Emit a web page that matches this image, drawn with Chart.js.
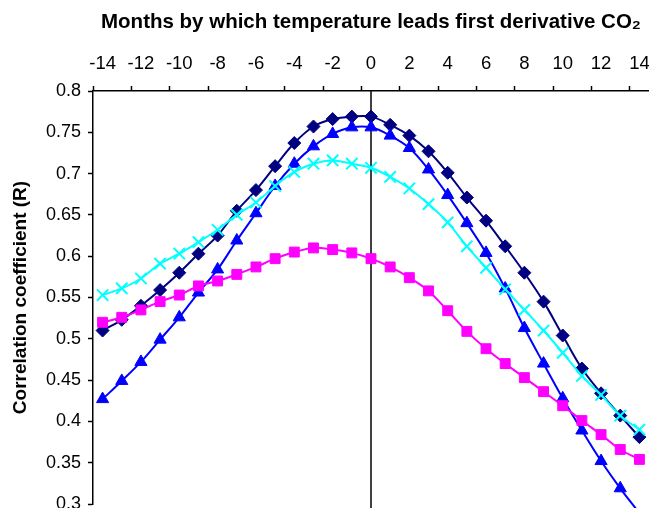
<!DOCTYPE html>
<html>
<head>
<meta charset="utf-8">
<script src="https://cdn.jsdelivr.net/npm/chart.js@4/dist/chart.umd.min.js"></script>
<style>
  html, body { margin: 0; padding: 0; background: #fff; overflow: hidden; }
  #wrap { width: 649px; height: 508px; }
</style>
</head>
<body>
<div id="wrap"><canvas id="grafica"></canvas></div>
<script>
// Meses (categorias del eje X)
const meses = [-14, -13, -12, -11, -10, -9, -8, -7, -6, -5, -4, -3, -2, -1, 0,
               1, 2, 3, 4, 5, 6, 7, 8, 9, 10, 11, 12, 13, 14];

// Series
const serieAzulOscuro = [0.510, 0.523, 0.540, 0.559, 0.580, 0.603, 0.625, 0.655, 0.680, 0.709,
                         0.737, 0.757, 0.766, 0.769, 0.769, 0.759, 0.746, 0.727, 0.701, 0.671,
                         0.643, 0.612, 0.580, 0.545, 0.504, 0.464, 0.434, 0.407, 0.381];
const serieAzul = [0.427, 0.449, 0.472, 0.499, 0.526, 0.556, 0.584, 0.619, 0.652, 0.685,
                   0.712, 0.733, 0.748, 0.756, 0.756, 0.746, 0.731, 0.705, 0.674, 0.640,
                   0.604, 0.561, 0.513, 0.470, 0.428, 0.389, 0.352, 0.319, 0.289];
const serieCian = [0.553, 0.561, 0.573, 0.591, 0.603, 0.617, 0.632, 0.650, 0.665, 0.685,
                   0.702, 0.712, 0.716, 0.712, 0.707, 0.696, 0.682, 0.663, 0.641, 0.612,
                   0.586, 0.560, 0.535, 0.510, 0.483, 0.455, 0.432, 0.407, 0.390];
const serieMagenta = [0.520, 0.526, 0.535, 0.545, 0.553, 0.564, 0.570, 0.578, 0.587, 0.597,
                      0.605, 0.610, 0.608, 0.604, 0.597, 0.587, 0.574, 0.558, 0.534, 0.509,
                      0.488, 0.470, 0.453, 0.436, 0.419, 0.401, 0.384, 0.366, 0.354];

// Linea vertical en el mes 0
const lineaCero = {
    id: 'lineaCero',
    beforeDatasetsDraw(chart) {
        const ctx = chart.ctx;
        const x = chart.scales.x.getPixelForValue(meses.indexOf(0));
        ctx.save();
        ctx.strokeStyle = '#000';
        ctx.lineWidth = 1.5;
        ctx.beginPath();
        ctx.moveTo(x, chart.chartArea.top);
        ctx.lineTo(x, chart.height);
        ctx.stroke();
        ctx.restore();
    }
};

const ctx = document.getElementById('grafica').getContext('2d');
new Chart(ctx, {
    type: 'line',
    data: {
        labels: meses,
        datasets: [
            {
                data: serieCian,
                borderColor: '#00FFFF',
                backgroundColor: '#00FFFF',
                pointStyle: 'crossRot',
                pointRadius: 8,
                pointBorderWidth: 2,
                borderWidth: 2,
                order: 1
            },
            {
                data: serieMagenta,
                borderColor: '#FF00FF',
                backgroundColor: '#FF00FF',
                pointStyle: 'rect',
                pointRadius: 7,
                pointBorderWidth: 1,
                borderWidth: 2,
                order: 2
            },
            {
                data: serieAzul,
                borderColor: '#0000FF',
                backgroundColor: '#0000FF',
                pointStyle: 'triangle',
                pointRadius: 7,
                pointBorderWidth: 1,
                borderWidth: 2,
                order: 3
            },
            {
                data: serieAzulOscuro,
                borderColor: '#000080',
                backgroundColor: '#000080',
                pointStyle: 'rectRot',
                pointRadius: 6.5,
                pointBorderWidth: 1,
                borderWidth: 2,
                order: 4
            }
        ]
    },
    options: {
        responsive: true,
        maintainAspectRatio: false,
        animation: false,
        clip: false,
        layout: { autoPadding: false, padding: { left: 0, right: 0, top: 0, bottom: 4 } },
        elements: { line: { tension: 0.35 } },
        plugins: {
            legend: { display: false },
            tooltip: { enabled: false }
        },
        scales: {
            x: {
                type: 'category',
                position: 'top',
                offset: true,
                afterFit(scale) {
                    scale.height = 91;
                    scale.paddingLeft = 0;
                    scale.paddingRight = 0;
                },
                title: {
                    display: true,
                    text: 'Months by which temperature leads first derivative CO₂',
                    color: '#000',
                    font: { family: 'Liberation Sans, Arial', size: 20.5, weight: 'bold' },
                    padding: { top: 10, bottom: 0 }
                },
                grid: {
                    offset: true,
                    drawOnChartArea: false,
                    drawTicks: true,
                    tickLength: 5,
                    tickWidth: 1.5,
                    color: c => (c.index !== undefined && c.index % 2 === 0) ? '#000' : 'rgba(0,0,0,0)'
                },
                border: { display: true, color: '#000', width: 1.5 },
                ticks: {
                    autoSkip: false,
                    maxRotation: 0,
                    padding: 11,
                    color: '#000',
                    font: { family: 'Liberation Sans, Arial', size: 18.5 },
                    callback: function (val, i) { return i % 2 === 0 ? String(meses[i]) : ''; }
                }
            },
            y: {
                min: 0.3,
                max: 0.8,
                afterFit(scale) {
                    scale.width = 93;
                    scale.paddingTop = 0;
                    scale.paddingBottom = 0;
                },
                title: {
                    display: true,
                    text: 'Correlation coefficient (R)',
                    color: '#000',
                    font: { family: 'Liberation Sans, Arial', size: 19, weight: 'bold' },
                    padding: { top: 9, bottom: 0 }
                },
                grid: {
                    drawOnChartArea: false,
                    drawTicks: true,
                    tickLength: 5,
                    tickWidth: 1.5,
                    color: '#000'
                },
                border: { display: true, color: '#000', width: 1.5 },
                ticks: {
                    stepSize: 0.05,
                    padding: 7,
                    color: '#000',
                    font: { family: 'Liberation Sans, Arial', size: 18 },
                    callback: v => String(+v.toFixed(2))
                }
            }
        }
    },
    plugins: [lineaCero]
});
</script>
</body>
</html>
